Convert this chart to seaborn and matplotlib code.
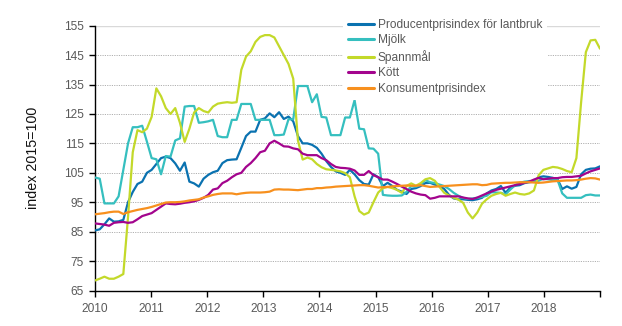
import numpy as np
import pandas as pd
import matplotlib
matplotlib.use("Agg")
import matplotlib.pyplot as plt
import seaborn as sns

years = list(range(2010, 2019))
series_names = ["Producentprisindex för lantbruk", "Mjölk", "Spannmål", "Kött", "Konsumentprisindex"]

ppi = [85.4, 85.8, 87.5, 89.5, 88.4, 88.5, 89.0, 95.0, 98.5, 101.2,
       102.0, 105.0, 106.0, 108.0, 110.0, 110.5, 110.0, 108.2, 105.7, 108.5,
       102.0, 101.4, 100.3, 103.0, 104.3, 105.2, 105.7, 108.3, 109.3, 109.5,
       109.6, 113.5, 117.5, 119.0, 119.0, 123.0, 123.5, 125.2, 123.9, 125.6,
       123.3, 124.1, 122.5, 117.5, 115.0, 115.0, 114.5, 113.5, 111.5, 109.0,
       107.0, 105.5, 105.0, 104.3, 106.0, 104.5, 102.5, 101.2, 101.0, 104.5,
       103.5, 100.5, 101.6, 100.5, 99.2, 98.6, 97.8, 99.5, 99.8, 100.5,
       101.5, 101.6, 101.0, 100.5, 99.5, 97.5, 96.3, 96.0, 96.0, 95.8,
       95.7, 96.0, 96.5, 98.0, 99.0, 99.5, 100.5, 98.2, 100.0, 100.6,
       100.8, 101.5, 101.8, 102.0, 103.5, 103.8, 103.6, 103.3, 102.8, 99.5,
       100.4, 99.6, 100.2, 104.5, 106.0, 106.4, 106.5, 107.2]

mjolk = [103.4, 103.0, 94.6, 94.6, 94.6, 97.0, 106.0, 115.0, 120.5, 120.5,
         121.0, 115.6, 110.0, 109.6, 104.5, 110.7, 110.5, 116.0, 116.7, 127.5,
         127.7, 127.7, 122.0, 122.2, 122.5, 123.0, 117.5, 117.1, 117.1, 123.0,
         123.0, 128.4, 128.4, 128.4, 123.0, 123.0, 123.0, 123.0, 117.8, 117.8,
         118.0, 123.2, 123.2, 134.5, 134.5, 134.5, 129.0, 131.7, 124.0, 123.8,
         117.8, 117.8, 117.8, 123.8, 123.8, 129.7, 120.0, 119.8, 113.3, 113.2,
         111.5, 97.5, 97.3, 97.2, 97.2, 97.3, 98.5, 100.5, 100.3, 101.0,
         102.5, 101.8, 101.5, 101.0, 100.5, 99.5, 98.2, 97.2, 96.5, 96.1,
         96.3, 96.5, 96.8, 97.2, 98.4, 98.3, 98.2, 97.7, 99.3, 100.8,
         101.6, 102.0, 102.2, 102.2, 102.3, 103.0, 102.8, 102.5, 102.6, 98.0,
         96.5, 96.5, 96.5, 96.5, 97.4, 97.6, 97.3, 97.3]

spannmal = [68.4, 69.0, 69.7, 69.0, 69.0, 69.7, 70.6, 90.0, 112.0, 119.5,
            118.8, 120.0, 124.0, 133.7, 131.0, 127.0, 125.0, 127.0, 122.0, 115.5,
            120.0, 125.5, 127.0, 126.0, 125.5, 127.5, 128.5, 128.8, 129.0, 128.8,
            129.0, 140.0, 144.5, 146.3, 149.5, 151.2, 151.8, 151.8, 151.0, 148.0,
            145.0, 142.0, 137.0, 116.0, 109.5, 110.2, 109.6, 108.0, 106.9, 106.2,
            106.0, 105.8, 105.5, 104.9, 103.5, 97.0, 92.0, 90.8, 91.5, 95.0,
            98.3, 99.8, 100.2, 99.8, 99.2, 98.2, 100.5, 101.4, 100.6, 101.5,
            102.8, 103.2, 102.3, 100.2, 98.2, 97.3, 96.5, 95.9, 94.8, 91.5,
            89.5, 91.5, 94.5, 96.0, 97.2, 97.8, 98.2, 97.2, 97.8, 98.3,
            97.8, 97.6, 98.0, 99.0, 104.2, 106.0, 106.5, 107.0, 106.8, 106.3,
            105.6, 105.2, 110.0, 129.0, 146.0, 150.0, 150.2, 147.2]

kott = [87.8, 87.6, 87.4, 87.0, 88.0, 88.2, 88.3, 88.0, 88.2, 89.2,
        90.3, 90.8, 91.3, 92.4, 93.5, 94.6, 94.4, 94.3, 94.5, 94.8,
        95.0, 95.3, 95.8, 96.5, 97.5, 99.3, 99.7, 101.5, 102.3, 103.5,
        104.5, 105.0, 107.0, 108.3, 110.0, 112.0, 112.5, 115.0, 115.9, 115.0,
        114.0, 113.9, 113.3, 113.0, 111.5, 111.0, 111.0, 111.0, 110.0, 109.3,
        108.0, 107.0, 106.7, 106.6, 106.4, 105.8, 104.3, 104.3, 105.6, 104.2,
        103.5, 102.7, 102.7, 102.0, 101.2, 100.3, 99.5, 98.6, 98.0, 97.6,
        97.4, 96.2, 96.5, 97.0, 97.0, 97.0, 97.0, 97.0, 96.6, 96.3,
        96.1, 96.6, 97.3, 98.0, 98.6, 99.2, 99.6, 100.0, 100.4, 100.8,
        101.2, 101.6, 102.0, 102.7, 103.3, 102.8, 103.0, 103.2, 103.2, 103.5,
        103.6, 103.6, 103.8, 104.0, 104.8, 105.5, 106.0, 106.5]

kpi = [90.9, 91.1, 91.3, 91.6, 91.8, 91.8, 91.0, 91.6, 92.0, 92.4,
       92.7, 93.0, 93.4, 93.9, 94.4, 94.9, 95.0, 95.0, 95.1, 95.3,
       95.6, 95.8, 96.0, 96.6, 97.0, 97.5, 97.8, 98.0, 98.0, 98.0,
       97.7, 98.0, 98.2, 98.3, 98.3, 98.3, 98.4, 98.6, 99.3, 99.4,
       99.3, 99.3, 99.2, 99.1, 99.3, 99.5, 99.5, 99.8, 99.8, 100.0,
       100.1, 100.3, 100.4, 100.5, 100.6, 100.7, 100.8, 100.8, 100.6, 100.3,
       100.0, 100.1, 100.2, 100.4, 100.5, 100.6, 100.7, 100.6, 100.6, 100.8,
       100.5, 100.2, 100.3, 100.4, 100.5, 100.6, 100.7, 100.8, 100.9, 101.0,
       101.1, 101.1, 100.8, 100.9, 101.3, 101.4, 101.5, 101.6, 101.6, 101.7,
       101.8, 101.8, 101.8, 101.7, 101.6, 101.7, 101.9, 102.1, 102.2, 102.3,
       102.4, 102.4, 102.5, 102.7, 103.0, 103.2, 103.1, 102.7]

colors = ["#0a72b0", "#35bfbf", "#c3d92a", "#a3048d", "#f7901e"]

n = len(ppi)
xpos = 2010 + np.arange(n) * 9.0 / (n - 1)
frames = []
for name, vals in zip(series_names, [ppi, mjolk, spannmal, kott, kpi]):
    frames.append(pd.DataFrame({"x": xpos, "value": vals, "series": name}))
df = pd.concat(frames, ignore_index=True)

sns.set_theme(style="white")
plt.rcParams["font.family"] = ["Liberation Sans", "DejaVu Sans"]

fig = plt.figure(figsize=(6.22, 3.26), dpi=100)
ax = fig.add_axes([95 / 622, 1 - 290.5 / 326, 505 / 622, (290.5 - 25.7) / 326])

sns.lineplot(data=df, x="x", y="value", hue="series", hue_order=series_names,
             palette=dict(zip(series_names, colors)), linewidth=1.6, ax=ax,
             legend=True, zorder=3)

ax.set_xlim(2010, 2019)
ax.set_ylim(65, 155)
ax.set_yticks(np.arange(65, 156, 10))
ax.set_xticks(list(range(2010, 2020)))
ax.set_xticklabels([str(y) for y in years] + [""])

for v in range(75, 155, 10):
    ax.axhline(v, color="#b0b0b0", linewidth=0.7, linestyle=(0, (1.2, 1.2)), zorder=1)
ax.axhline(155, color="#d9d9d9", linewidth=1.0, zorder=1)

for s in ["top", "right"]:
    ax.spines[s].set_visible(False)
ax.spines["left"].set_color("black")
ax.spines["bottom"].set_color("black")
ax.spines["left"].set_linewidth(1.0)
ax.spines["bottom"].set_linewidth(1.0)
ax.tick_params(axis="both", direction="out", length=4, width=1, color="black",
               labelsize=8.6, labelcolor="#595959", pad=4,
               bottom=True, left=True)
ax.tick_params(axis="x", pad=5)

ax.set_xlabel("")
ax.set_ylabel("index 2015=100", fontsize=10.3, color="#111111", labelpad=17)

leg = ax.legend(loc="upper center", bbox_to_anchor=(445 / 622, 1 - 14 / 326),
                bbox_transform=fig.transFigure, frameon=True, fancybox=False,
                framealpha=1, facecolor="white", edgecolor="none",
                fontsize=8.6, handlelength=2.2, handletextpad=0.3,
                labelspacing=0.3, borderpad=0.4, borderaxespad=0)
for t in leg.get_texts():
    t.set_color("#595959")
for h in leg.get_lines():
    h.set_linewidth(2.2)
leg.set_zorder(5)

fig.savefig("out.png", dpi=100)
